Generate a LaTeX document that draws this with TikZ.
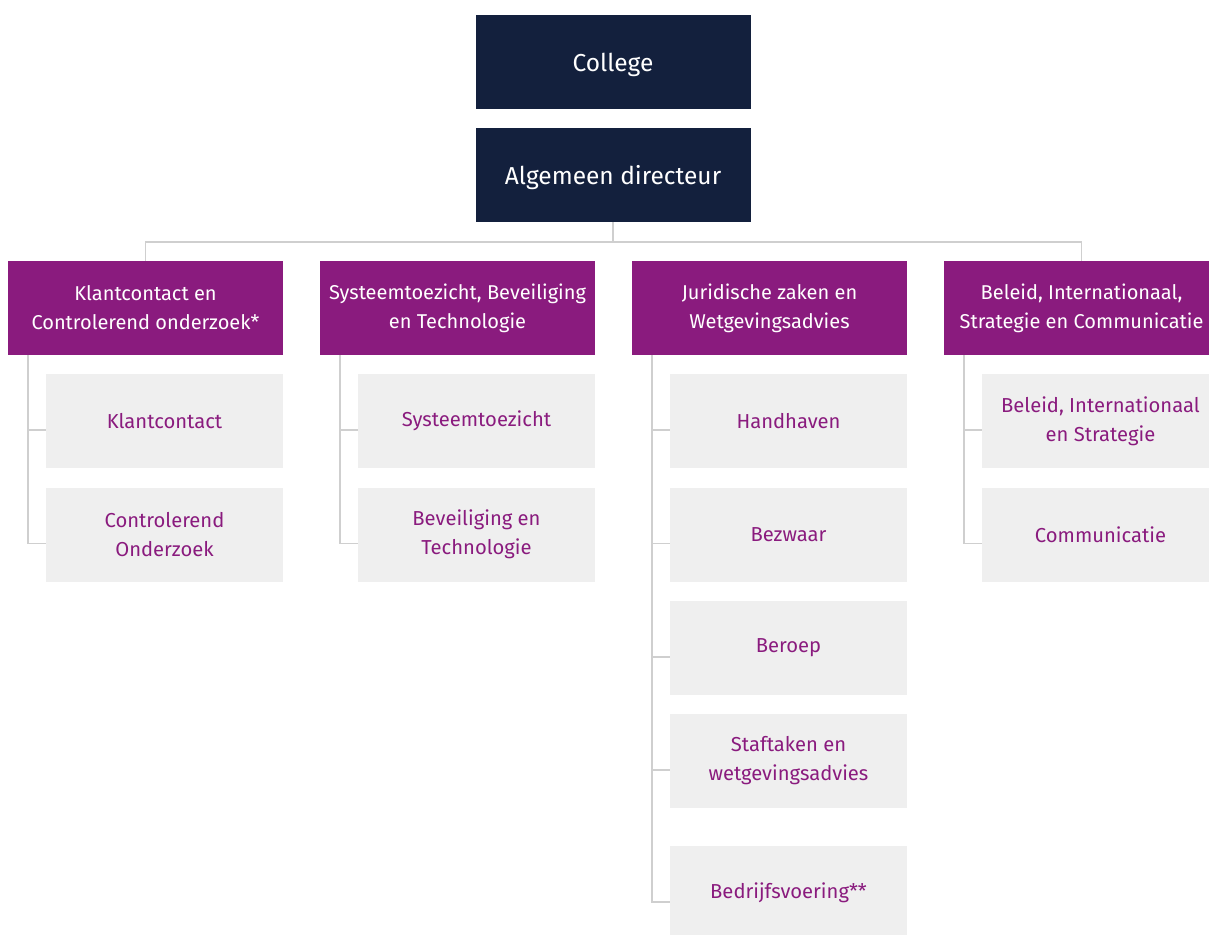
\documentclass[tikz,border=0pt]{standalone}
\usepackage{fontspec}
\setmainfont{Fira Sans}
\definecolor{navy}{HTML}{13203D}
\definecolor{paars}{HTML}{8A1B7E}
\definecolor{lijn}{HTML}{CFCFCF}
\definecolor{vak}{HTML}{EFEFEF}
\begin{document}
\begin{tikzpicture}[x=1pt, y=-1pt,
        top/.style={fill=navy, text=white, minimum width=275pt, minimum height=94pt, inner sep=0pt, text depth=0pt, font=\fontsize{24.5}{29}\selectfont},
        afd/.style={fill=paars, text=white, minimum width=275pt, minimum height=94pt, inner sep=0pt, align=center, font=\fontsize{20}{29}\selectfont},
        team/.style={fill=vak, text=paars, minimum width=237pt, minimum height=94pt, inner sep=0pt, align=center, font=\fontsize{20.2}{29}\selectfont},
        conn/.style={draw=lijn, line width=1.5pt}]
        \useasboundingbox (0,0) rectangle (1209,934);
        % top
        \node [top] (college) at (613, 62) {College};
        \node [top] (dir) at (613, 175) {Algemeen directeur};
        % afdelingen
        \node [afd] (kco) at (145.5, 308) {Klantcontact en\\Controlerend onderzoek*};
        \node [afd] (sbt) at (457.5, 308) {Systeemtoezicht, Beveiliging\\en Technologie};
        \node [afd] (jzw) at (769.5, 308) {Juridische zaken en\\Wetgevingsadvies};
        \node [afd] (bisc) at (1081.5, 308) {Beleid, Internationaal,\\Strategie en Communicatie};
        \draw [conn] (kco.north) -- ++(0, -19) -| (bisc.north);
        \draw [conn] (dir.south) -- ++(0, 20);
        % teams
        \node [team] (klant) at (164.5, 421) {Klantcontact};
        \node [team] (contr) at (164.5, 534.5) {Controlerend\\Onderzoek};
        \node [team] (systeem) at (476.5, 421) {Systeemtoezicht};
        \node [team] (bevtech) at (476.5, 534.5) {Beveiliging en\\Technologie};
        \node [team] (handh) at (788.5, 421) {Handhaven};
        \node [team] (bezw) at (788.5, 534.5) {Bezwaar};
        \node [team] (beroep) at (788.5, 648) {Beroep};
        \node [team] (staf) at (788.5, 761) {Staftaken en\\wetgevingsadvies};
        \node [team] (bedr) at (788.5, 893) {Bedrijfsvoering**};
        \node [team] (bis) at (1100.5, 421) {Beleid, Internationaal\\en Strategie};
        \node [team] (comm) at (1100.5, 534.5) {Communicatie};
        \draw [conn] ([xshift=20pt]kco.south west) |- ([yshift=-9pt]contr.west);
        \draw [conn] ([xshift=20pt]kco.south west) |- ([yshift=-9pt]klant.west);
        \draw [conn] ([xshift=20pt]sbt.south west) |- ([yshift=-9pt]bevtech.west);
        \draw [conn] ([xshift=20pt]sbt.south west) |- ([yshift=-9pt]systeem.west);
        \draw [conn] ([xshift=20pt]jzw.south west) |- ([yshift=-9pt]bedr.west);
        \draw [conn] ([xshift=20pt]jzw.south west) |- ([yshift=-9pt]staf.west);
        \draw [conn] ([xshift=20pt]jzw.south west) |- ([yshift=-9pt]beroep.west);
        \draw [conn] ([xshift=20pt]jzw.south west) |- ([yshift=-9pt]bezw.west);
        \draw [conn] ([xshift=20pt]jzw.south west) |- ([yshift=-9pt]handh.west);
        \draw [conn] ([xshift=20pt]bisc.south west) |- ([yshift=-9pt]comm.west);
        \draw [conn] ([xshift=20pt]bisc.south west) |- ([yshift=-9pt]bis.west);
    \end{tikzpicture}
\end{document}
